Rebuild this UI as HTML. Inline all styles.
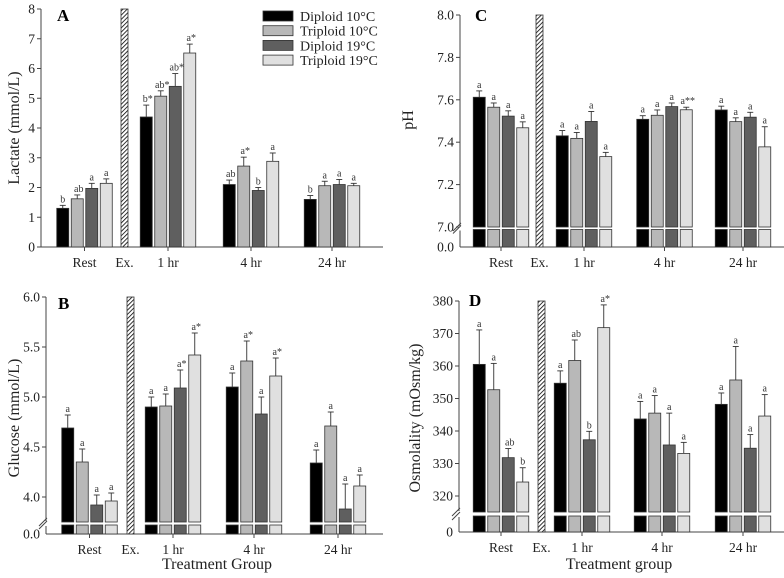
<!DOCTYPE html>
<html><head><meta charset="utf-8"><style>
body{margin:0;background:#fff}
svg{display:block;font-family:"Liberation Serif",serif}
</style></head><body>
<svg id="c" width="784" height="578" viewBox="0 0 784 578" xmlns="http://www.w3.org/2000/svg"></svg>
<script>
const groups=["Rest","1 hr","4 hr","24 hr"];
const seriesNames=["Diploid 10°C","Triploid 10°C","Diploid 19°C","Triploid 19°C"];
const fills=["#000000","#b8b8b8","#5f5f5f","#e0e0e0"];
// Panel A lactate
const lacVals=[[1.3,1.62,1.97,2.14],[4.37,5.07,5.4,6.52],[2.1,2.72,1.9,2.88],[1.6,2.06,2.1,2.06]];
const lacErr=[[0.1,0.13,0.17,0.15],[0.4,0.18,0.43,0.3],[0.15,0.3,0.1,0.28],[0.13,0.15,0.17,0.08]];
const lacSig=[["b","ab","a","a"],["b*","ab*","ab*","a*"],["ab","a*","b","a"],["b","a","a","a"]];
const lacTicks=[0,1,2,3,4,5,6,7,8];
// Panel C pH
const phVals=[[7.612,7.565,7.523,7.468],[7.43,7.418,7.498,7.332],[7.508,7.527,7.568,7.553],[7.552,7.497,7.518,7.378]];
const phErr=[[0.03,0.02,0.025,0.028],[0.025,0.028,0.047,0.02],[0.017,0.025,0.017,0.012],[0.018,0.018,0.023,0.095]];
const phSig=[["a","a","a","a"],["a","a","a","a"],["a","a","a","a**"],["a","a","a","a"]];
const phTicks=["7.0","7.2","7.4","7.6","7.8","8.0"];
// Panel B glucose
const gluVals=[[4.69,4.35,3.92,3.96],[4.9,4.91,5.09,5.42],[5.1,5.36,4.83,5.21],[4.34,4.71,3.88,4.11]];
const gluErr=[[0.13,0.13,0.1,0.08],[0.1,0.12,0.18,0.22],[0.14,0.2,0.17,0.18],[0.13,0.14,0.25,0.11]];
const gluSig=[["a","a","a","a"],["a","a","a*","a*"],["a","a*","a","a*"],["a","a","a","a"]];
const gluTicks=["4.0","4.5","5.0","5.5","6.0"];
// Panel D osmolality
const osmVals=[[360.5,352.7,331.8,324.3],[354.7,361.7,337.3,371.8],[343.7,345.5,335.7,333.1],[348.2,355.7,334.7,344.6]];
const osmErr=[[10.6,8.1,2.8,4.4],[3.8,6.3,2.6,7],[5.4,5.4,9.8,3.4],[3.5,10.3,4.2,6.6]];
const osmSig=[["a","a","ab","b"],["a","ab","b","a*"],["a","a","a","a"],["a","a","a","a"]];
const osmTicks=[320,330,340,350,360,370,380];

const svg=document.getElementById('c');
const NS="http://www.w3.org/2000/svg";
function mk(tag,at,txt,parent){const e=document.createElementNS(NS,tag);for(const k in at)e.setAttribute(k,at[k]);if(txt!==undefined)e.textContent=txt;(parent||svg).appendChild(e);return e;}

const defs=mk('defs',{});
const pat=mk('pattern',{id:'hatch',patternUnits:'userSpaceOnUse',width:3,height:3,patternTransform:'rotate(45)'},undefined,defs);
mk('rect',{x:0,y:0,width:3,height:3,fill:'#fff'},undefined,pat);
mk('line',{x1:0,y1:0,x2:0,y2:3,stroke:'#000','stroke-width':1.6},undefined,pat);

function panel(p){
  const g=mk('g',{});
  
  
  const y=v=>p.y0-(v-p.v0)*p.k;
  const ax=mk('line',{x1:p.ax,y1:p.top,x2:p.ax,y2:p.base,stroke:'#444','stroke-width':1},undefined,g);
  
  const xa=mk('line',{x1:p.ax,y1:p.base,x2:p.axEnd,y2:p.base,stroke:'#444','stroke-width':1},undefined,g);
  
  p.ticks.forEach(t=>{
    const ty=y(+t);
    mk('line',{x1:p.ax-4,y1:ty,x2:p.ax,y2:ty,stroke:'#444'},undefined,g);
    const tl=mk('text',{x:p.ax-6,y:ty+4.5,'font-size':13.5,'text-anchor':'end',fill:'#222'},String(t),g);
    
  });
  if(p.brk!==undefined){
    const zl=mk('text',{x:p.ax-6,y:p.base+4.5,'font-size':13.5,'text-anchor':'end',fill:'#222'},p.zero,g);
    
    mk('rect',{x:p.ax-1.5,y:p.brk-1,width:3,height:p.gap+2,fill:'#fff'},undefined,g);
    mk('line',{x1:p.ax-7,y1:p.brk+4,x2:p.ax+1,y2:p.brk-4,stroke:'#444'},undefined,g);
    mk('line',{x1:p.ax-7,y1:p.brk+4+p.gap,x2:p.ax+1,y2:p.brk-4+p.gap,stroke:'#444'},undefined,g);
  }
  const ex=mk('rect',{x:p.exX,y:p.top,width:7,height:p.base-p.top,fill:'url(#hatch)',stroke:'#333','stroke-width':0.8},undefined,g);
  
  const exl=mk('text',{x:p.exX+3.5,y:p.base+20,'font-size':13.5,'text-anchor':'middle',fill:'#222'},'Ex.',g);
  
  groups.forEach((gn,gi)=>{
    const cx=p.centers[gi];
    mk('line',{x1:cx,y1:p.base,x2:cx,y2:p.base+4,stroke:'#444'},undefined,g);
    const gl=mk('text',{x:cx,y:p.base+20,'font-size':13.5,'text-anchor':'middle',fill:'#222'},gn,g);
    
    for(let i=0;i<4;i++){
      const v=p.vals[gi][i],e=p.err[gi][i];
      const bx=cx+(i-1.5)*14.5-6;
      const bt=y(v);
      const bottom=p.brk!==undefined?p.brk:p.base;
      const et=y(v+e);
      mk('line',{x1:bx+6,y1:bt,x2:bx+6,y2:et,stroke:'#333','stroke-width':0.9},undefined,g);
      mk('line',{x1:bx+3,y1:et,x2:bx+9,y2:et,stroke:'#333','stroke-width':0.9},undefined,g);
      const r=mk('rect',{x:bx,y:bt,width:12,height:bottom-bt,fill:fills[i],stroke:'#333','stroke-width':0.8},undefined,g);
      
      
      if(p.brk!==undefined){
        const s=mk('rect',{x:bx,y:p.brk+p.gap,width:12,height:p.base-p.brk-p.gap,fill:fills[i],stroke:'#333','stroke-width':0.8},undefined,g);
        
        
      }
      const sl=mk('text',{x:bx+6+(p.sig[gi][i].length>1?1.5:0),y:et-3,'font-size':10,'text-anchor':'middle',fill:'#333'},p.sig[gi][i],g);
      
      
    }
  });
  if(p.brk!==undefined){
    p.centers.forEach(cx=>{mk('rect',{x:cx-30,y:p.brk+0.5,width:60,height:p.gap-1,fill:'#fff'},undefined,g);});
  }
  const lt=mk('text',{x:p.lx,y:p.ly,'font-size':17,'font-weight':'bold',fill:'#000'},p.letter,g);
  
  const yt=mk('text',{x:0,y:0,'font-size':16,'text-anchor':'middle',fill:'#222',transform:`translate(${p.ytx},${p.yty}) rotate(-90)`},p.ytitle,g);
  
  if(p.xtitle){
    const xt=mk('text',{x:p.xtx,y:569,'font-size':16,'text-anchor':'middle',fill:'#222'},p.xtitle,g);
    
  }
}

panel({name:'panel-a-lactate',letter:'A',lx:57,ly:21,ax:41,axEnd:383,top:9,base:247,y0:247,v0:0,k:29.75,ticks:lacTicks,vals:lacVals,err:lacErr,sig:lacSig,exX:121,centers:[84.5,168,251,332],ytitle:'Lactate (mmol/L)',ytx:19,yty:128});
panel({name:'panel-c-ph',letter:'C',lx:475,ly:21,ax:460,axEnd:784,top:15,base:247,y0:227,v0:7,k:212,ticks:phTicks,zero:'0.0',brk:227,gap:2.5,vals:phVals,err:phErr,sig:phSig,exX:536,centers:[501,584,664.5,743],ytitle:'pH',ytx:413,yty:120});
panel({name:'panel-b-glucose',letter:'B',lx:58,ly:309,ax:46,axEnd:383,top:297,base:534,y0:497,v0:4,k:100,ticks:gluTicks,zero:'0.0',brk:522,gap:3,vals:gluVals,err:gluErr,sig:gluSig,exX:127,centers:[89.5,173,254,338],ytitle:'Glucose (mmol/L)',ytx:19,yty:418,xtitle:'Treatment Group',xtx:217});
panel({name:'panel-d-osmolality',letter:'D',lx:469,ly:306,ax:459,axEnd:784,top:301,base:532,y0:496,v0:320,k:3.25,ticks:osmTicks,zero:'0',brk:512,gap:4,vals:osmVals,err:osmErr,sig:osmSig,exX:538,centers:[501,582,662,743],ytitle:'Osmolality (mOsm/kg)',ytx:420,yty:418,xtitle:'Treatment group',xtx:619});

const lg=mk('g',{});


seriesNames.forEach((s,i)=>{
  const yy=16+i*14.7;
  const r=mk('rect',{x:263,y:yy-5,width:30,height:10,fill:fills[i],stroke:'#333','stroke-width':0.8},undefined,lg);
  
  const t=mk('text',{x:300,y:yy+5,'font-size':14,fill:'#222'},s,lg);
  
});
</script>
</body></html>
